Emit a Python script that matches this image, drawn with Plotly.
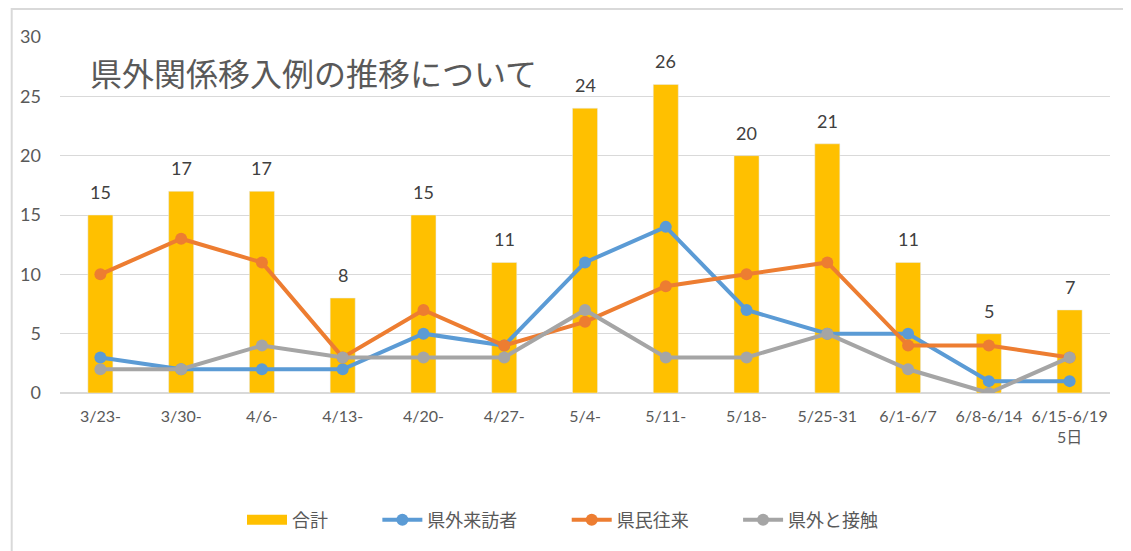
import plotly.graph_objs as go

weeks = ["3/23-", "3/30-", "4/6-", "4/13-", "4/20-", "4/27-", "5/4-", "5/11-",
         "5/18-", "5/25-31", "6/1-6/7", "6/8-6/14", "6/15-6/19<br>5日"]
total = [15, 17, 17, 8, 15, 11, 24, 26, 20, 21, 11, 5, 7]
visitors = [3, 2, 2, 2, 5, 4, 11, 14, 7, 5, 5, 1, 1]
residents = [10, 13, 11, 3, 7, 4, 6, 9, 10, 11, 4, 4, 3]
contact = [2, 2, 4, 3, 3, 3, 7, 3, 3, 5, 2, 0, 3]
y_ticks = [0, 5, 10, 15, 20, 25, 30]

font = "Lato, 'Noto Sans CJK JP', sans-serif"
jp_font = "'Noto Sans CJK JP', sans-serif"
pad = "\u00a0" * 11  # spacing between legend entries

fig = go.Figure()
fig.add_trace(go.Bar(x=weeks, y=total, name="合計", marker_color="#FFC000",
                     width=0.31, showlegend=False))
# legend entry for the bars drawn as a wide swatch
fig.add_trace(go.Scatter(x=[None], y=[None], name="合計" + pad, mode="lines",
                         line=dict(color="#FFC000", width=15)))

for name, vals, color in [("県外来訪者", visitors, "#5B9BD5"),
                          ("県民往来", residents, "#ED7D31"),
                          ("県外と接触", contact, "#A5A5A5")]:
    fig.add_trace(go.Scatter(x=weeks, y=vals, name=name + pad, mode="lines+markers",
                             line=dict(color=color, width=4),
                             marker=dict(color=color, size=12)))

for w, t in zip(weeks, total):
    fig.add_annotation(x=w, y=t, text=str(t), showarrow=False, yanchor="bottom",
                       yshift=10, font=dict(family=font, size=18, color="#404040"))

fig.add_annotation(xref="paper", yref="paper", x=0.027, y=0.902, xanchor="left",
                   yanchor="middle", text="県外関係移入例の推移について", showarrow=False,
                   font=dict(family=jp_font, size=32, color="#595959"))

# chart frame
fig.add_shape(type="line", xref="paper", yref="paper", x0=-0.046, x1=-0.046,
              y0=-0.5, y1=1.09, line=dict(color="#d9d9d9", width=2))
fig.add_shape(type="line", xref="paper", yref="paper", x0=-0.046, x1=1.05,
              y0=1.079, y1=1.079, line=dict(color="#d9d9d9", width=2))

fig.update_layout(
    width=1123, height=543,
    margin=dict(l=49, r=21, t=29, b=158),
    plot_bgcolor="white", paper_bgcolor="white",
    font=dict(family=font, color="#595959"),
    showlegend=True,
    legend=dict(orientation="h", x=0.5, xanchor="center", y=-0.357, yanchor="middle",
                font=dict(family=jp_font, size=18, color="#595959"),
                itemwidth=40, tracegroupgap=0),
    xaxis=dict(type="category", range=[-0.5, 12.5], showgrid=False, showline=False,
               ticks="", tickfont=dict(size=16, color="#595959"), tickangle=0,
               ticklabelstandoff=12),
    yaxis=dict(range=[0, 30], tickvals=y_ticks, showgrid=True, gridcolor="#d9d9d9",
               gridwidth=1, zeroline=True, zerolinecolor="#d9d9d9", zerolinewidth=2,
               showline=False, ticks="", tickfont=dict(size=18, color="#595959"),
               ticklabelstandoff=18),
)

fig.write_html("out.html")
